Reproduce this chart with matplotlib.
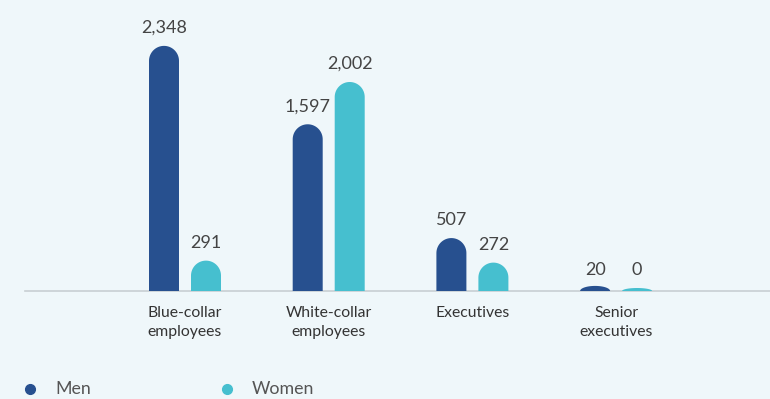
import numpy as np
import matplotlib.pyplot as plt
from matplotlib.patches import Polygon
from matplotlib.lines import Line2D

# Data
categories = ['Blue-collar\nemployees', 'White-collar\nemployees', 'Executives', 'Senior\nexecutives']
men = [2348, 1597, 507, 20]
women = [291, 2002, 272, 0]

C_MEN = '#27508f'
C_WOMEN = '#46bfcf'
BG = '#eff7fa'
TXT = '#444444'

plt.rcParams['font.family'] = ['Lato', 'DejaVu Sans']

fig = plt.figure(figsize=(7.7, 3.99), dpi=100, facecolor=BG)
ax = fig.add_axes([0, 0, 1, 1])
ax.set_facecolor(BG)

PX_X = 143.7   # pixels per category
PX_Y = 0.1044  # pixels per unit
ax.set_xlim(-185 / PX_X, (770 - 185) / PX_X)
ax.set_ylim(-108 / PX_Y, 291 / PX_Y)
ax.axis('off')

bar_w = 30 / PX_X
off = 21 / PX_X
ry_full = 15 / PX_Y

def rounded_bar(cx, h, color):
    # tiny bars still get a small visible cap
    h_px = h * PX_Y
    if h_px < 15:
        h_px += 3
    h_draw = h_px / PX_Y
    ry = min(ry_full, h_draw)
    t = np.linspace(0, np.pi, 40)
    xs = cx + bar_w / 2 * np.cos(t)
    ys = (h_draw - ry) + ry * np.sin(t)
    pts = [(cx + bar_w / 2, 0)] + list(zip(xs, ys)) + [(cx - bar_w / 2, 0)]
    ax.add_patch(Polygon(pts, closed=True, facecolor=color, edgecolor='none', zorder=3))

x = np.arange(len(categories))
for i in x:
    rounded_bar(i - off, men[i], C_MEN)
    rounded_bar(i + off, women[i], C_WOMEN)
    pad = 10 / PX_Y
    ax.text(i - off, max(men[i], 30) + pad, f'{men[i]:,}', ha='center', va='bottom',
            fontsize=13, color=TXT)
    ax.text(i + off, max(women[i], 30) + pad, f'{women[i]:,}', ha='center', va='bottom',
            fontsize=13, color=TXT)
    ax.text(i, -15 / PX_Y, categories[i], ha='center', va='top', fontsize=11.3,
            color='#333333', linespacing=1.45)

# baseline
ax.plot([-160 / PX_X, 585 / PX_X], [0, 0], color='#c8cfd3', lw=1.2, zorder=2)

# legend
ly = 1 - 389 / 399
for lx, col, lab in [(30, C_MEN, 'Men'), (227, C_WOMEN, 'Women')]:
    fig.add_artist(Line2D([lx / 770], [ly], marker='o', markersize=7, color=col,
                          transform=fig.transFigure))
    fig.text((lx + 25) / 770, ly, lab, color='#555555', fontsize=12.8, ha='left', va='center')

fig.savefig('out.png', dpi=100, facecolor=BG)
